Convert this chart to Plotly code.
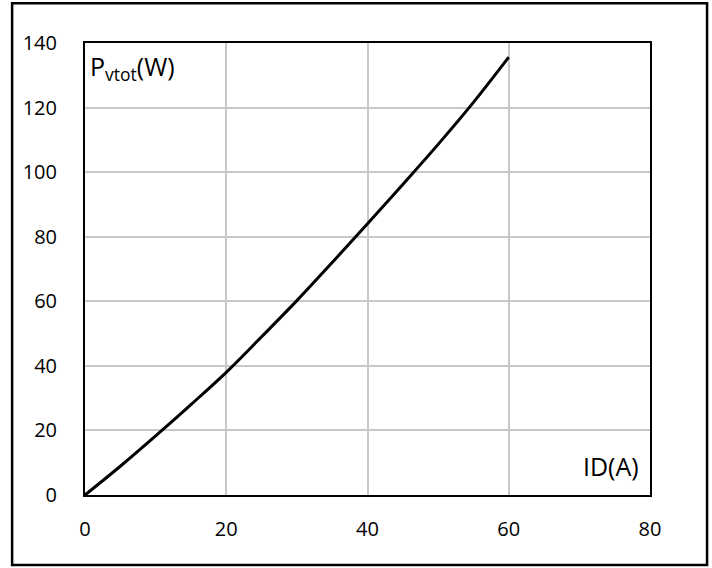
import plotly.graph_objects as go

id_a = [0, 5, 10, 15, 20, 25, 30, 35, 40, 45, 50, 55, 60]
p_w = [0, 8.9, 18.3, 28, 38, 49, 60.2, 72, 84, 96.2, 108.6, 121.6, 135.6]
x_ticks = [0, 20, 40, 60, 80]
y_ticks = [0, 20, 40, 60, 80, 100, 120, 140]

fig = go.Figure()
fig.add_trace(go.Scatter(x=id_a, y=p_w, mode="lines",
                         line=dict(color="black", width=3, shape="spline", smoothing=1.0),
                         showlegend=False, hoverinfo="skip"))

font = dict(family="Open Sans, Noto Sans, sans-serif", size=20, color="black")
big = dict(family="Open Sans, Noto Sans, sans-serif", size=25, color="black")
fig.update_layout(
    width=712, height=568,
    margin=dict(l=85, r=62, t=43, b=73, pad=0),
    paper_bgcolor="white", plot_bgcolor="white",
    font=font,
    xaxis=dict(range=[0, 80], tickvals=x_ticks, showgrid=True, gridcolor="#c8c8c8", gridwidth=2,
               showline=True, linecolor="black", linewidth=2, mirror=True,
               zeroline=False, ticks="", ticklabelstandoff=15, fixedrange=True,
               tickfont=font),
    yaxis=dict(range=[0, 140], tickvals=y_ticks, showgrid=True, gridcolor="#c8c8c8", gridwidth=2,
               showline=True, linecolor="black", linewidth=2, mirror=True,
               zeroline=False, ticks="", ticklabelstandoff=22, fixedrange=True,
               tickfont=font),
    shapes=[dict(type="rect", xref="paper", yref="paper",
                 x0=-0.129, x1=1.101, y0=-0.155, y1=1.088,
                 line=dict(color="black", width=2.5), fillcolor="rgba(0,0,0,0)", layer="below")],
    annotations=[
        dict(text="P<sub>vtot</sub>(W)", xref="paper", yref="paper", x=0.006, y=0.945,
             xanchor="left", yanchor="middle", showarrow=False, font=big),
        dict(text="ID(A)", xref="paper", yref="paper", x=0.984, y=0.064,
             xanchor="right", yanchor="middle", showarrow=False, font=big),
    ],
)
fig.write_html("out.html", config={"displayModeBar": False},
               post_script="document.body.style.margin='0';document.body.style.overflow='hidden';")
